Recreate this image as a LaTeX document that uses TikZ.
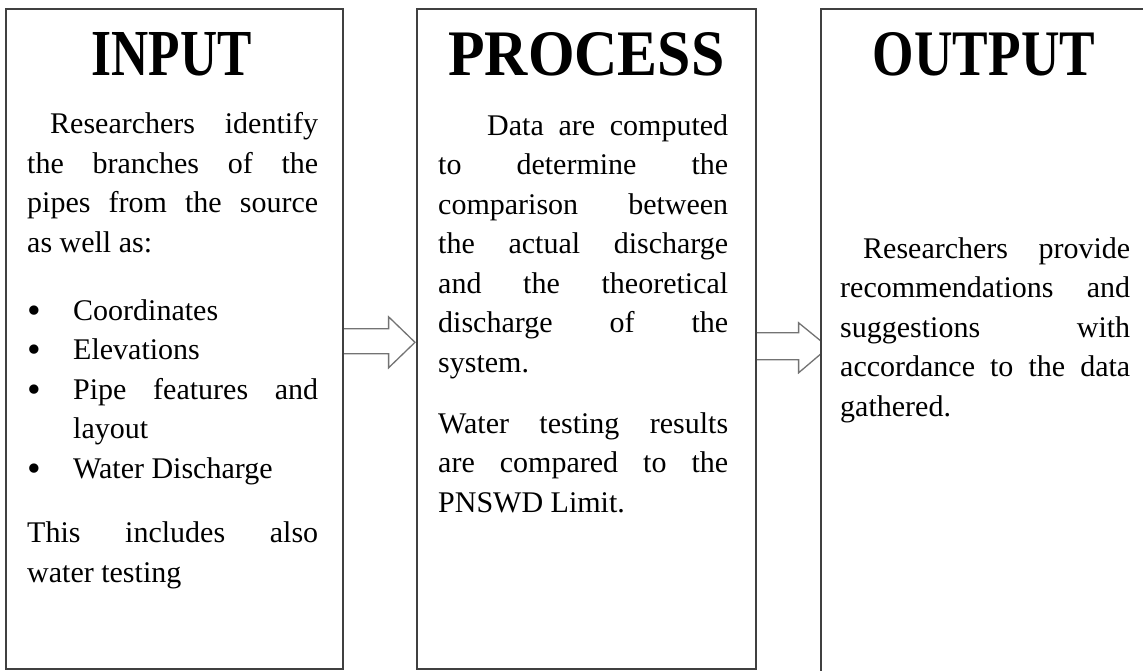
\documentclass[tikz,border=0pt]{standalone}
\usepackage{fontspec}
\setmainfont{Liberation Serif}
\usetikzlibrary{calc}
\pgfdeclarelayer{background}
\pgfsetlayers{background,main}
\tikzset{
  box/.style={draw=black!75, line width=1.6pt, fill=white, anchor=north west, inner sep=0pt},
  blockarrow/.style={draw=black!55, line width=1.3pt, fill=white, line join=miter},
  title/.style={anchor=base, inner sep=0pt, font=\bfseries},
  body/.style={anchor=base west, inner sep=0pt, align=left, font=\fontsize{30}{39.5}\selectfont},
}
\newcommand{\jline}[2]{\makebox[#1][s]{#2}}
\newcommand{\bul}{\makebox[46pt][l]{\raisebox{-3pt}{\scalebox{1.3}{\textbullet}}}}
\begin{document}
\begin{tikzpicture}[x=1pt,y=-1pt]
\useasboundingbox (0,0) rectangle (1143,670);
\clip (0,0) rectangle (1143,670);
% boxes
\node[box, minimum width=337pt, minimum height=660pt] (in) at (5,8) {};
\node[box, minimum width=339pt, minimum height=660pt] (proc) at (416,8) {};
\node[box, minimum width=340pt, minimum height=700pt] (out) at (820,8) {};
% block arrows
\begin{pgfonlayer}{background}
\draw[blockarrow] ($(in.east)+(0,-10)$) -- ($(in.east)+(45,-10)$) -- ($(in.east)+(45,-22)$)
  -- ($(proc.west)+(-1,3.5)$) -- ($(in.east)+(45,29)$) -- ($(in.east)+(45,15)$) -- ($(in.east)+(0,15)$);
\draw[blockarrow] ($(proc.east)+(0,-6)$) -- ($(proc.east)+(42,-6)$) -- ($(proc.east)+(42,-16)$)
  -- ($(proc.east)+(72,8.5)$) -- ($(proc.east)+(42,34)$) -- ($(proc.east)+(42,21)$) -- ($(proc.east)+(0,21)$);
\end{pgfonlayer}
% titles
\node[title] (t1) at ($(in.north)+(-2.5,67)$) {\resizebox{160pt}{43pt}{INPUT}};
\node[title] (t2) at ($(proc.north)+(0,67)$) {\resizebox{276pt}{43pt}{PROCESS}};
\node[title] (t3) at (984,75) {\resizebox{222pt}{43pt}{OUTPUT}};
% input text (anchors at the baseline of the last line)
\node[body] (i1) at (27,252) {\hspace*{23pt}\jline{268pt}{Researchers identify}\\
  \jline{291pt}{the branches of the}\\
  \jline{291pt}{pipes from the source}\\
  as well as:};
\node[body] (i2) at (27,478) {\bul Coordinates\\
  \bul Elevations\\
  \bul\jline{245pt}{Pipe features and}\\
  \hspace*{46pt}layout\\
  \bul Water Discharge};
\node[body] (i3) at (27,582) {\jline{291pt}{This includes also}\\
  water testing};
% process text
\node[body] (p1) at (438,372) {\hspace*{49pt}\jline{241pt}{Data are computed}\\
  \jline{290pt}{to determine the}\\
  \jline{290pt}{comparison between}\\
  \jline{290pt}{the actual discharge}\\
  \jline{290pt}{and the theoretical}\\
  \jline{290pt}{discharge of the}\\
  system.};
\node[body] (p2) at (438,512) {\jline{290pt}{Water testing results}\\
  \jline{290pt}{are compared to the}\\
  PNSWD Limit.};
% output text
\node[body] (o1) at (840,416) {\hspace*{23pt}\jline{267pt}{Researchers provide}\\
  \jline{290pt}{recommendations and}\\
  \jline{290pt}{suggestions with}\\
  \jline{290pt}{accordance to the data}\\
  gathered.};
\end{tikzpicture}
\end{document}
